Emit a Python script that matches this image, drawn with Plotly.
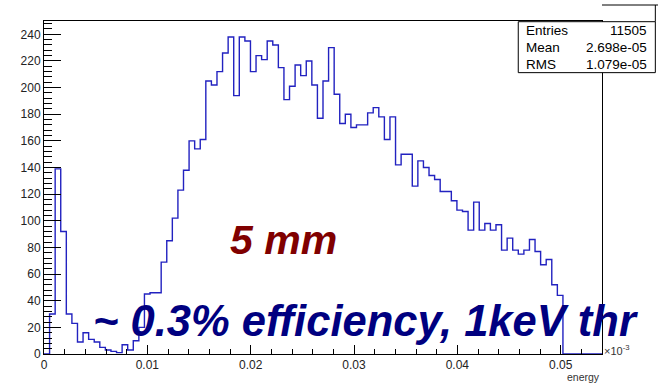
import numpy as np
import plotly.graph_objects as go

# Energy deposit histogram: 100 bins over 0 .. 0.054 (axis in units of 1e-3)
x_min, x_max, n_bins = 0.0, 0.054, 100
counts = [
    0, 30, 139, 92, 30, 23, 9, 16, 11, 9,
    5, 3, 2, 1, 7, 3, 10, 20, 45, 46,
    46, 69, 85, 102, 123, 138, 160, 154, 161, 205,
    202, 212, 226, 238, 194, 238, 235, 212, 224, 221,
    235, 232, 215, 191, 201, 217, 209, 220, 202, 177,
    205, 230, 195, 173, 180, 170, 172, 172, 181, 185,
    178, 161, 178, 142, 150, 150, 126, 145, 140, 134,
    131, 122, 122, 115, 108, 107, 93, 114, 93, 98,
    93, 97, 78, 87, 78, 75, 78, 86, 77, 67,
    71, 52, 44, 0, 0, 0, 0, 0, 0, 0,
]
stats_labels = ["Entries", "Mean", "RMS"]
stats_values = ["11505", "2.698e-05", "1.079e-05"]
x_ticks = [0, 0.01, 0.02, 0.03, 0.04, 0.05]
x_tick_text = ["0", "0.01", "0.02", "0.03", "0.04", "0.05"]
y_ticks = list(range(0, 241, 20))

W, H = 658, 387
L, R, T, B = 44, 56.3, 21, 32.7
pw, ph = W - L - R, H - T - B


def px(xp):
    return (xp - L) / pw


def py(yp):
    return (H - B - yp) / ph


edges = np.linspace(x_min, x_max, n_bins + 1)
xs = list(edges[:-1]) + [edges[-1]]
ys = list(counts) + [counts[-1]]

fig = go.Figure()
fig.add_trace(go.Scatter(
    x=xs, y=ys, mode="lines", line_shape="hv",
    line=dict(color="#2222c0", width=1.4), hoverinfo="skip", showlegend=False,
))

font_axis = dict(family="Liberation Sans", size=12, color="#222")
fig.update_xaxes(
    range=[x_min, x_max], showgrid=False, zeroline=False,
    showline=True, linecolor="black", linewidth=1, mirror=True,
    ticks="inside", ticklen=9, tickcolor="black", tickwidth=1,
    tickvals=x_ticks, ticktext=x_tick_text, tickfont=font_axis,
    minor=dict(ticks="inside", dtick=0.002, ticklen=5, tickcolor="black", showgrid=False),
)
fig.update_yaxes(
    range=[0, 250], showgrid=False, zeroline=False,
    showline=True, linecolor="black", linewidth=1, mirror=True,
    ticks="inside", ticklen=17, tickcolor="black", tickwidth=1,
    tickvals=y_ticks, tickfont=font_axis,
    minor=dict(ticks="inside", dtick=4, ticklen=8, tickcolor="black", showgrid=False),
)

shapes = []
annotations = []

# partially visible title pave at the top right
shapes.append(dict(type="line", xref="paper", yref="paper",
                   x0=px(601.7), x1=px(660), y0=py(5), y1=py(5),
                   line=dict(color="black", width=1)))
shapes.append(dict(type="line", xref="paper", yref="paper",
                   x0=px(655), x1=px(655), y0=py(5), y1=py(21.7),
                   line=dict(color="black", width=1)))

# statistics box
bx0, bx1, by0, by1 = 518, 655, 21.7, 72.7
shapes.append(dict(type="rect", xref="paper", yref="paper",
                   x0=px(bx0), x1=px(bx1), y0=py(by1), y1=py(by0),
                   fillcolor="white", line=dict(color="black", width=1), layer="above"))
row_h = (by1 - by0) / len(stats_labels)
stat_font = dict(family="Liberation Sans", size=13.5, color="black")
for i, (lab, val) in enumerate(zip(stats_labels, stats_values)):
    yc = py(by0 + row_h * (i + 0.5))
    annotations.append(dict(xref="paper", yref="paper", x=px(524), y=yc,
                            text=lab, showarrow=False, xanchor="left", yanchor="middle",
                            font=stat_font))
    annotations.append(dict(xref="paper", yref="paper", x=px(649), y=yc,
                            text=val, showarrow=False, xanchor="right", yanchor="middle",
                            font=stat_font))

# axis extras
annotations.append(dict(xref="paper", yref="paper", x=px(602), y=py(350),
                        text="×10<sup>-3</sup>", showarrow=False, xanchor="left", yanchor="middle",
                        font=dict(family="Liberation Sans", size=11, color="#333")))
annotations.append(dict(xref="paper", yref="paper", x=1.0, y=py(377),
                        text="energy", showarrow=False, xanchor="right", yanchor="middle",
                        font=dict(family="Liberation Sans", size=10.5, color="#333")))

# overlaid labels
annotations.append(dict(xref="paper", yref="paper", x=px(283), y=py(240),
                        text="5 mm", showarrow=False, xanchor="center", yanchor="middle",
                        font=dict(family="Liberation Sans", size=41, color="#800000",
                                  weight="bold", style="italic")))
annotations.append(dict(xref="paper", yref="paper", x=px(365), y=py(321),
                        text="~ 0.3% efficiency, 1keV thr", showarrow=False,
                        xanchor="center", yanchor="middle",
                        font=dict(family="Liberation Sans", size=43.5, color="#000080",
                                  weight="bold", style="italic")))

fig.update_layout(
    width=W, height=H, margin=dict(l=L, r=R, t=T, b=B, autoexpand=False),
    paper_bgcolor="white", plot_bgcolor="white",
    shapes=shapes, annotations=annotations, showlegend=False,
)

fig.write_html("out.html", include_plotlyjs=True, config={"displayModeBar": False})
